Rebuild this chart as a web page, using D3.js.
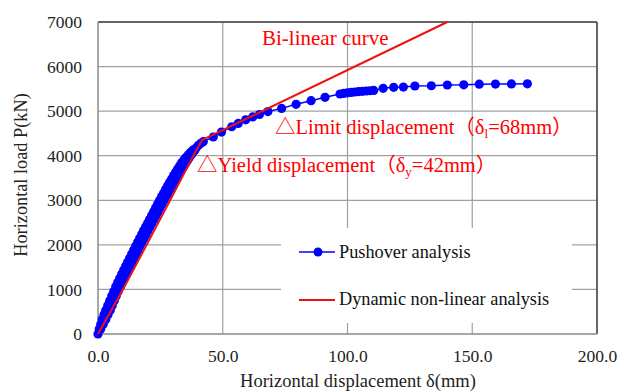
<!DOCTYPE html>
<html>
<head>
<meta charset="utf-8">
<script src="https://cdn.jsdelivr.net/npm/d3@7"></script>
<style>
  html, body { margin: 0; padding: 0; background: #fff; }
  svg { display: block; }
  text { font-family: "Liberation Serif", "Noto Sans CJK JP", serif; }
</style>
</head>
<body>
<svg id="chart" width="619" height="392"></svg>
<script>
// ---- Data ----
const pushoverX = [0,
  0.5, 1.1, 1.1, 2.1, 1.7, 3.1, 2.4, 4.0, 3.1, 4.9, 3.9, 5.7, 4.7, 6.5, 5.5, 7.3, 6.3, 8.1, 7.1, 8.9,
  7.9, 9.7, 8.7, 10.5, 9.5, 11.3, 10.3, 12.1, 11.1, 12.9, 11.9, 13.7, 12.7, 14.5, 13.5, 15.3, 14.3, 16.1, 15.1, 16.9,
  15.9, 17.7, 16.7, 18.5, 17.5, 19.3, 18.3, 20.1, 19.1, 20.9, 19.9, 21.7, 20.7, 22.5, 21.5, 23.3, 22.3, 24.1, 23.1, 24.9,
  23.9, 25.7, 24.7, 26.5, 25.5, 27.3, 26.3, 28.1, 27.1, 28.9, 27.9, 29.7, 28.7, 30.5, 29.5, 31.3, 30.3, 32.1, 31.1, 32.9,
  31.9, 33.7, 32.7, 34.5, 33.5, 35.3, 34.4, 36.0, 35.3, 36.7, 36.2, 37.4, 37.1, 38.1, 38.0, 38.8,
  39.2, 40.2, 41.2, 42.2, 46.2, 49.5, 53.6, 56.2, 59.2, 62.0, 64.7,
  68.1, 73.6, 79.4, 85.4, 91.0, 97.0, 98.5, 100.0, 101.5, 103.0, 104.5, 106.0, 107.5, 109.0, 110.5, 114.3, 118.5, 122.4,
  127.0, 133.6, 140.0, 146.6, 152.8, 159.3, 165.7, 172.1];
const pushoverP = [0,
  110, 110, 220, 220, 325, 325, 430, 430, 535, 535, 640, 640, 745, 745, 850, 850, 955, 955, 1060, 1060,
  1155, 1155, 1250, 1250, 1345, 1345, 1435, 1435, 1525, 1525, 1615, 1615, 1705, 1705, 1795, 1795, 1885, 1885, 1975, 1975,
  2065, 2065, 2150, 2150, 2235, 2235, 2320, 2320, 2405, 2405, 2490, 2490, 2575, 2575, 2660, 2660, 2745, 2745, 2830, 2830,
  2915, 2915, 3000, 3000, 3085, 3085, 3165, 3165, 3245, 3245, 3325, 3325, 3405, 3405, 3480, 3480, 3555, 3555, 3630, 3630,
  3700, 3700, 3770, 3770, 3840, 3840, 3905, 3905, 3965, 3965, 4020, 4020, 4075, 4075, 4125, 4125,
  4170, 4230, 4280, 4315, 4420, 4530, 4650, 4725, 4805, 4870, 4925,
  4990, 5062, 5154, 5235, 5310, 5385, 5398, 5410, 5420, 5430, 5438, 5445, 5452, 5458, 5465, 5513, 5535, 5540,
  5564, 5570, 5587, 5590, 5605, 5608, 5610, 5612];
const dynamicX = [0, 10.0, 19.5, 28.9, 38.2, 41.7, 140.0];
const dynamicP = [0, 1000, 2000, 3000, 4000, 4350, 7000];
const xTicks = [0, 50, 100, 150, 200];
const yTicks = [0, 1000, 2000, 3000, 4000, 5000, 6000, 7000];
const seriesNames = ["Pushover analysis", "Dynamic non-linear analysis"];
const xTitle = "Horizontal displacement δ(mm)";
const yTitle = "Horizontal load P(kN)";

// ---- Layout ----
const FONT = "'Liberation Serif', 'Noto Sans CJK JP', serif";
const svg = d3.select("#chart");
const W = 619, H = 392;
const m = { left: 98, right: 597, top: 22, bottom: 334 };
svg.append("rect").attr("width", W).attr("height", H).attr("fill", "#fff");

const x = d3.scaleLinear().domain([0, 200]).range([m.left, m.right]);
const y = d3.scaleLinear().domain([0, 7000]).range([m.bottom, m.top]);

// grid
const grid = svg.append("g");
grid.selectAll("line.h").data(yTicks.filter(v => v > 0 && v < 7000)).enter().append("line")
  .attr("x1", m.left).attr("x2", m.right)
  .attr("y1", d => y(d)).attr("y2", d => y(d))
  .attr("stroke", "#a0a0a0").attr("stroke-width", 1.2);
grid.selectAll("line.v").data(xTicks.filter(v => v > 0 && v < 200)).enter().append("line")
  .attr("y1", m.top).attr("y2", m.bottom)
  .attr("x1", d => x(d)).attr("x2", d => x(d))
  .attr("stroke", "#a0a0a0").attr("stroke-width", 1.2);

// border
svg.append("line").attr("x1", m.left).attr("x2", m.right).attr("y1", m.top).attr("y2", m.top)
  .attr("stroke", "#333").attr("stroke-width", 1.5);
svg.append("line").attr("x1", m.right).attr("x2", m.right).attr("y1", m.top).attr("y2", m.bottom)
  .attr("stroke", "#333").attr("stroke-width", 1.5);
svg.append("line").attr("x1", m.left).attr("x2", m.left).attr("y1", m.top).attr("y2", m.bottom)
  .attr("stroke", "#8a8a8a").attr("stroke-width", 1.5);
svg.append("line").attr("x1", m.left).attr("x2", m.right).attr("y1", m.bottom).attr("y2", m.bottom)
  .attr("stroke", "#8a8a8a").attr("stroke-width", 1.5);

// axes
const yAxis = svg.append("g").attr("transform", `translate(${m.left},0)`)
  .call(d3.axisLeft(y).tickValues(yTicks).tickSize(0).tickPadding(16).tickFormat(d3.format("d")));
yAxis.select(".domain").remove();
yAxis.attr("font-family", null);
yAxis.selectAll("text").attr("font-size", 17.5).attr("fill", "#222").style("font-family", FONT);

const xAxis = svg.append("g").attr("transform", `translate(0,${m.bottom})`)
  .call(d3.axisBottom(x).tickValues(xTicks).tickSize(0).tickPadding(16).tickFormat(d3.format(".1f")));
xAxis.select(".domain").remove();
xAxis.attr("font-family", null);
xAxis.selectAll("text").attr("font-size", 17.5).attr("fill", "#222").style("font-family", FONT);

// axis titles
svg.append("text").attr("x", 358).attr("y", 387).attr("text-anchor", "middle").style("font-family", FONT)
  .attr("font-size", 18.5).attr("fill", "#222").text(xTitle);
svg.append("text").attr("transform", "translate(27,175) rotate(-90)").attr("text-anchor", "middle").style("font-family", FONT)
  .attr("font-size", 18.3).attr("fill", "#222").text(yTitle);

// legend box (covers grid)
const lg = svg.append("g");
lg.append("rect").attr("x", 281).attr("y", 228).attr("width", 291).attr("height", 95).attr("fill", "#fff");
lg.append("line").attr("x1", 299).attr("x2", 335).attr("y1", 252).attr("y2", 252)
  .attr("stroke", "#0000ff").attr("stroke-width", 1.5);
lg.append("circle").attr("cx", 318).attr("cy", 252).attr("r", 4.5).attr("fill", "#0000ff");
lg.append("text").attr("x", 339).attr("y", 258).attr("font-size", 18.3).attr("fill", "#111").style("font-family", FONT).text(seriesNames[0]);
lg.append("line").attr("x1", 299).attr("x2", 335).attr("y1", 300).attr("y2", 300)
  .attr("stroke", "#ee1111").attr("stroke-width", 2);
lg.append("text").attr("x", 339).attr("y", 305).attr("font-size", 18.3).attr("fill", "#111").style("font-family", FONT).text(seriesNames[1]);

// series
const push = pushoverX.map((d, i) => [d, pushoverP[i]]);
const dyn = dynamicX.map((d, i) => [d, dynamicP[i]]);
const line = d3.line().x(d => x(d[0])).y(d => y(d[1]));

svg.append("path").datum(push).attr("d", line).attr("fill", "none")
  .attr("stroke", "#0000ff").attr("stroke-width", 1.5);
svg.append("g").selectAll("circle").data(push).enter().append("circle")
  .attr("cx", d => x(d[0])).attr("cy", d => y(d[1])).attr("r", 4.6).attr("fill", "#0000ff");

svg.append("path").datum(dyn).attr("d", line).attr("fill", "none")
  .attr("stroke", "#ee1111").attr("stroke-width", 2);

// annotations
svg.append("text").attr("x", 262).attr("y", 45).attr("font-size", 21).attr("fill", "#ff0000").style("font-family", FONT).text("Bi-linear curve");

const t1 = svg.append("text").attr("x", 275).attr("y", 134).attr("font-size", 20.5).attr("fill", "#ff0000").style("font-family", FONT);
t1.append("tspan").text("△Limit displacement（δ");
t1.append("tspan").attr("font-size", 13).attr("dy", 4).text("l");
t1.append("tspan").attr("dy", -4).text("=68mm）");

const t2 = svg.append("text").attr("x", 197).attr("y", 172).attr("font-size", 20.5).attr("fill", "#ff0000").style("font-family", FONT);
t2.append("tspan").text("△Yield displacement（δ");
t2.append("tspan").attr("font-size", 13).attr("dy", 4).text("y");
t2.append("tspan").attr("dy", -4).text("=42mm）");
</script>
</body>
</html>
